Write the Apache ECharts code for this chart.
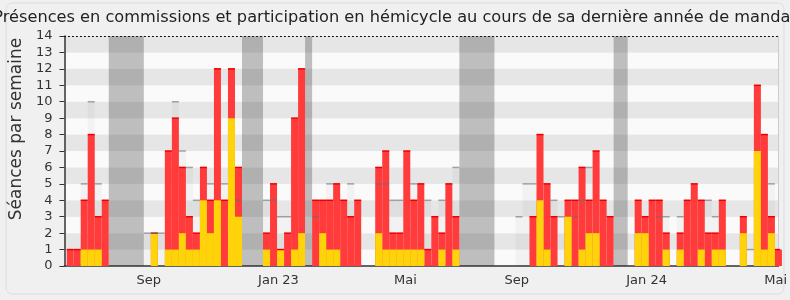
<!DOCTYPE html>
<html>
<head>
<meta charset="utf-8">
<script src="https://cdn.jsdelivr.net/npm/echarts@6/dist/echarts.min.js"></script>
<style>
  html, body { margin: 0; padding: 0; background: #f0f0f0; }
  #chart { width: 790px; height: 300px; }
</style>
</head>
<body>
<div id="chart"></div>
<script>
// une valeur par semaine, semaine 0 = début juillet 2022
var presences = [
  1, 1, 4, 8, 3, 4, 0, 0, 0, 0,
  0, 0, 2, 0, 7, 9, 6, 3, 2, 6,
  4, 12, 4, 12, 6, 0, 0, 0, 2, 5,
  1, 2, 9, 12, 0, 4, 4, 4, 5, 4,
  3, 4, 0, 0, 6, 7, 2, 2, 7, 4,
  5, 1, 3, 2, 5, 3, 0, 0, 0, 0,
  0, 0, 0, 0, 0, 0, 3, 8, 5, 3,
  0, 4, 4, 6, 4, 7, 4, 3, 0, 0,
  0, 4, 3, 4, 4, 2, 0, 2, 4, 5,
  4, 2, 2, 4, 0, 0, 3, 0, 11, 8,
  3, 1
];
var hemicycle = [
  0, 0, 1, 1, 1, 0, 0, 0, 0, 0,
  0, 0, 2, 0, 1, 1, 2, 1, 1, 4,
  2, 4, 0, 9, 3, 0, 0, 0, 1, 0,
  1, 0, 1, 2, 0, 0, 2, 1, 1, 0,
  0, 0, 0, 0, 2, 1, 1, 1, 1, 1,
  1, 0, 0, 1, 0, 1, 0, 0, 0, 0,
  0, 0, 0, 0, 0, 0, 0, 4, 1, 0,
  0, 3, 0, 1, 2, 2, 0, 0, 0, 0,
  0, 2, 2, 0, 0, 1, 0, 1, 0, 0,
  1, 0, 1, 1, 0, 0, 2, 0, 7, 1,
  2, 0
];
var mediane = [
  null, null, 5, 10, 5, null, null, null, null, null,
  null, 2, 2, 2, null, 10, 7, 6, 4, null,
  5, null, 5, null, 4, null, null, null, 4, 4,
  3, 3, null, null, null, 3, null, 5, null, null,
  5, null, null, null, 5, 5, 4, 4, null, 5,
  null, 4, null, 4, null, 6, null, null, null, null,
  null, null, null, null, 3, 5, 5, null, null, 4,
  3, null, 3, 4, 6, null, null, null, null, null,
  null, null, null, null, 3, 3, null, 3, null, null,
  null, 4, 3, null, null, null, null, 1, null, null,
  5, null
];
// vacances parlementaires : [première semaine, dernière semaine]
var vacances = [[6, 10], [25, 27], [34, 34], [56, 60], [78, 79]];
var moisNoms = ['Sep', 'Jan 23', 'Mai', 'Sep', 'Jan 24', 'Mai'];
var moisSemaines = [11.2, 29.7, 47.8, 63.7, 82.2, 100.6];

function pts(arr) {
  var out = [];
  for (var i = 0; i < arr.length; i++) out.push([i, arr[i]]);
  return out;
}

// trait horizontal en haut de chaque semaine
function trait(color, width) {
  return function (params, api) {
    var v = api.value(1);
    if (v == null || isNaN(v) || v <= 0) return;
    var a = api.coord([api.value(0) - 0.5, v]);
    var b = api.coord([api.value(0) + 0.5, v]);
    return {
      type: 'line',
      shape: { x1: a[0], y1: a[1], x2: b[0], y2: b[1] },
      style: { stroke: color, lineWidth: width }
    };
  };
}

var myChart = echarts.init(document.getElementById('chart'));
myChart.setOption({
  animation: false,
  textStyle: { fontFamily: 'DejaVu Sans' },
  title: {
    text: 'Présences en commissions et participation en hémicycle au cours de sa dernière année de mandat',
    left: 'center',
    top: 5,
    textStyle: { fontSize: 16.2, fontWeight: 'normal', color: '#222', fontFamily: 'DejaVu Sans' }
  },
  graphic: [{
    type: 'rect',
    shape: { x: 6, y: 3, width: 778, height: 291, r: 6 },
    style: { fill: 'none', stroke: '#dcdcdc', lineWidth: 1 },
    z: -1
  }],
  grid: { left: 62, right: 10, top: 36, bottom: 34 },
  xAxis: [{
    type: 'value',
    min: -0.82,
    max: 101.02,
    position: 'bottom',
    axisLine: { show: true, onZero: false, lineStyle: { color: '#333', width: 1.5 } },
    axisTick: { show: false },
    splitLine: { show: false },
    axisLabel: {
      customValues: moisSemaines,
      color: '#333',
      fontSize: 13,
      margin: 8,
      formatter: function (v) {
        var k = moisSemaines.indexOf(v);
        return k >= 0 ? moisNoms[k] : '';
      }
    }
  }, {
    type: 'value',
    min: -0.82,
    max: 101.02,
    position: 'top',
    axisLine: { show: true, onZero: false, lineStyle: { color: '#000', type: [1, 3], width: 1 } },
    axisTick: { show: false },
    axisLabel: { show: false },
    splitLine: { show: false }
  }],
  yAxis: [{
    type: 'value',
    min: 0,
    max: 14,
    interval: 1,
    name: 'Séances par semaine',
    nameLocation: 'middle',
    nameGap: 38,
    nameTextStyle: { fontSize: 17, color: '#333', padding: [0, 0, 0, 44] },
    axisLine: { show: true, onZero: false, lineStyle: { color: '#333', width: 1.5 } },
    axisTick: { show: true, length: 5, lineStyle: { color: '#333' } },
    axisLabel: { color: '#333', fontSize: 13, margin: 12 },
    splitLine: { show: false },
    splitArea: { show: true, areaStyle: { color: ['#fafafa', '#e6e6e6'] } }
  }, {
    type: 'value',
    min: 0,
    max: 14,
    position: 'right',
    axisLine: { show: true, onZero: false, lineStyle: { color: '#cccccc' } },
    axisTick: { show: false },
    axisLabel: { show: false },
    splitLine: { show: false }
  }],
  series: [
    {
      name: 'Médiane',
      type: 'bar',
      data: pts(mediane),
      barWidth: '100%',
      barGap: '-100%',
      itemStyle: { color: 'rgba(0,0,0,0.03)' },
      z: 1,
      markArea: {
        silent: true,
        itemStyle: { color: 'rgba(36,36,36,0.28)' },
        data: vacances.map(function (v) {
          return [{ xAxis: v[0] - 0.5 }, { xAxis: v[1] + 0.5 }];
        })
      }
    },
    {
      name: 'Présences',
      type: 'bar',
      data: pts(presences),
      barWidth: '100%',
      barGap: '-100%',
      itemStyle: { color: '#ff3b3b' },
      z: 2
    },
    {
      name: 'Hémicycle',
      type: 'bar',
      data: pts(hemicycle),
      barWidth: '100%',
      barGap: '-100%',
      itemStyle: { color: '#ffd30a' },
      z: 3
    },
    {
      type: 'custom',
      data: pts(presences),
      renderItem: trait('#ee0000', 1.5),
      clip: true,
      z: 4
    },
    {
      type: 'custom',
      data: pts(mediane),
      renderItem: trait('rgba(110,110,110,0.6)', 1.5),
      clip: true,
      z: 5
    }
  ]
});
</script>
</body>
</html>
